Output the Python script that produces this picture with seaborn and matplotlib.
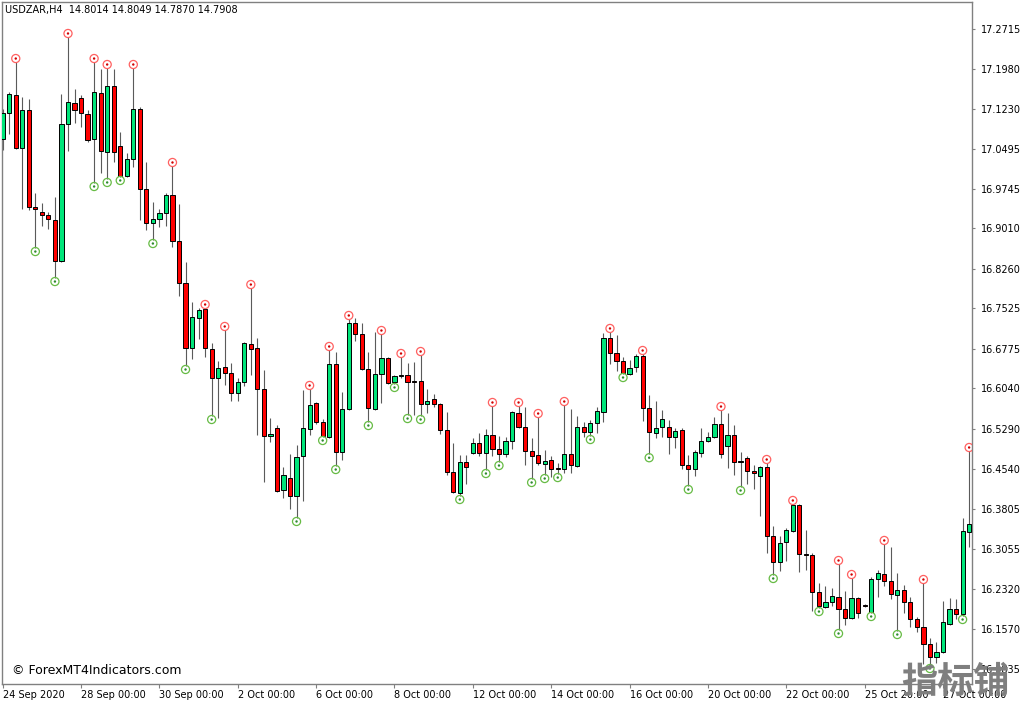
import numpy as np
import pandas as pd
import matplotlib
matplotlib.use("Agg")
import matplotlib.pyplot as plt
import seaborn as sns

# ---------------- data ----------------
header_text = "USDZAR,H4  14.8014 14.8049 14.7870 14.7908"
copyright_text = "© ForexMT4Indicators.com"
cjk_watermark = "指标铺"

opens = [17.0673, 17.1156, 17.1489, 17.0505, 17.1211, 16.9409, 16.9316, 16.9260, 16.9167, 16.8406,
         17.0951, 17.1341, 17.1434, 17.1137, 17.0673, 17.1527, 17.0431, 17.1657, 17.0543, 16.9985,
         17.0301, 17.1230, 16.9744, 16.9112, 16.9186, 16.9298, 16.9632, 16.8777, 16.7997, 16.6790,
         16.7348, 16.7515, 16.6772, 16.6233, 16.6437, 16.6326, 16.5955, 16.6159, 16.6865, 16.6790,
         16.6029, 16.5155, 16.5304, 16.4152, 16.4375, 16.4041, 16.4784, 16.5285, 16.5768, 16.5415,
         16.5137, 16.6493, 16.4858, 16.5657, 16.7255, 16.7050, 16.6400, 16.5657, 16.6307, 16.6605,
         16.6159, 16.6270, 16.6289, 16.6177, 16.6177, 16.5750, 16.5843, 16.5750, 16.5267, 16.4487,
         16.4097, 16.4672, 16.4840, 16.5025, 16.4840, 16.5174, 16.4914, 16.4821, 16.5062, 16.5583,
         16.5322, 16.4877, 16.4802, 16.4635, 16.4709, 16.4561, 16.4542, 16.4817, 16.4598, 16.5322,
         16.5230, 16.5397, 16.5601, 16.6976, 16.6698, 16.6549, 16.6307, 16.6437, 16.6642, 16.5675,
         16.5211, 16.5322, 16.5322, 16.5137, 16.5267, 16.4617, 16.4542, 16.4840, 16.5062, 16.5137,
         16.5378, 16.4970, 16.5174, 16.4691, 16.4747, 16.4505, 16.4412, 16.4579, 16.3298, 16.2815,
         16.3187, 16.3391, 16.3874, 16.2964, 16.2945, 16.2258, 16.1979, 16.2072, 16.2165, 16.1942,
         16.1775, 16.2147, 16.2016, 16.1886, 16.2500, 16.2592, 16.2462, 16.2202, 16.2295, 16.2072,
         16.1756, 16.1607, 16.1292, 16.1050, 16.1143, 16.1663, 16.1942, 16.1849, 16.3373]

highs = [17.1230, 17.1545, 17.2102, 17.1452, 17.1415, 16.9670, 16.9483, 16.9316, 16.9595, 17.1508,
         17.2567, 17.1601, 17.1489, 17.1211, 17.2102, 17.1972, 17.1991, 17.1972, 17.0803, 17.0413,
         17.1991, 17.1267, 17.0245, 16.9502, 16.9372, 16.9670, 17.0171, 16.9465, 16.8387, 16.7645,
         16.7533, 16.7533, 16.6883, 16.6549, 16.7125, 16.6512, 16.6233, 16.6902, 16.7904, 16.6976,
         16.6382, 16.5490, 16.5360, 16.4579, 16.4821, 16.4988, 16.6010, 16.6029, 16.5787, 16.5471,
         16.6753, 16.6716, 16.5973, 16.7329, 16.7348, 16.7255, 16.6716, 16.7088, 16.7050, 16.6623,
         16.6289, 16.6623, 16.6512, 16.6530, 16.6660, 16.6029, 16.5936, 16.5768, 16.5601, 16.5025,
         16.4802, 16.4802, 16.5118, 16.5211, 16.5285, 16.5713, 16.5155, 16.5137, 16.5620, 16.5713,
         16.5694, 16.5118, 16.5508, 16.4895, 16.4784, 16.4654, 16.5731, 16.5657, 16.5527, 16.5415,
         16.5452, 16.5694, 16.7069, 16.7088, 16.7032, 16.6623, 16.6567, 16.6679, 16.6679, 16.5917,
         16.5805, 16.5638, 16.5452, 16.5304, 16.5304, 16.4802, 16.4895, 16.5304, 16.5230, 16.5508,
         16.5638, 16.5583, 16.5360, 16.4858, 16.4784, 16.4617, 16.4598, 16.4654, 16.3484, 16.3298,
         16.3447, 16.3893, 16.3893, 16.3410, 16.2983, 16.2425, 16.2370, 16.2332, 16.2778, 16.2277,
         16.2518, 16.2165, 16.2035, 16.2537, 16.2667, 16.3150, 16.3094, 16.2611, 16.2388, 16.2165,
         16.1793, 16.2425, 16.1403, 16.1329, 16.2090, 16.2147, 16.2128, 16.3633, 16.4877]

lows = [17.0468, 17.0765, 17.0487, 16.9372, 16.9353, 16.8647, 16.9056, 16.9000, 16.8090, 16.8387,
        17.0450, 17.0970, 17.0895, 17.0617, 16.9855, 17.0041, 16.9930, 17.0245, 16.9967, 16.9967,
        17.0152, 16.9167, 16.8982, 16.8796, 16.9037, 16.9056, 16.8666, 16.7756, 16.6456, 16.6586,
        16.6958, 16.6623, 16.5527, 16.5490, 16.6103, 16.5805, 16.5805, 16.6085, 16.6289, 16.5174,
        16.4301, 16.5044, 16.4115, 16.4004, 16.3800, 16.3633, 16.3948, 16.5174, 16.5378, 16.5137,
        16.5118, 16.4598, 16.4709, 16.5638, 16.6920, 16.6382, 16.5415, 16.5638, 16.5768, 16.6122,
        16.6122, 16.6233, 16.5545, 16.5545, 16.5527, 16.5583, 16.5694, 16.5192, 16.4431, 16.4097,
        16.4041, 16.4264, 16.4821, 16.4784, 16.4524, 16.4784, 16.4672, 16.4765, 16.4914, 16.5304,
        16.4617, 16.4357, 16.4617, 16.4431, 16.4394, 16.4449, 16.4468, 16.4468, 16.4579, 16.5137,
        16.5155, 16.5211, 16.5415, 16.6493, 16.6363, 16.6307, 16.6289, 16.6345, 16.5434, 16.4817,
        16.5118, 16.5137, 16.4817, 16.4932, 16.4542, 16.4227, 16.4412, 16.4765, 16.5044, 16.5118,
        16.4747, 16.4561, 16.4431, 16.4208, 16.4264, 16.4171, 16.3670, 16.2983, 16.2574, 16.2648,
        16.2834, 16.3373, 16.2630, 16.2667, 16.1905, 16.1960, 16.1960, 16.1998, 16.1552, 16.1645,
        16.1756, 16.1775, 16.1979, 16.1868, 16.2165, 16.2370, 16.2128, 16.1533, 16.1868, 16.1607,
        16.1515, 16.0920, 16.0902, 16.0939, 16.1125, 16.1645, 16.1756, 16.1812, 16.3094]

closes = [17.1156, 17.1508, 17.0505, 17.1211, 16.9409, 16.9372, 16.9260, 16.9186, 16.8406, 17.0951,
          17.1360, 17.1211, 17.1156, 17.0654, 17.1545, 17.0450, 17.1657, 17.0431, 16.9985, 17.0301,
          17.1230, 16.9744, 16.9112, 16.9186, 16.9298, 16.9632, 16.8777, 16.7997, 16.6790, 16.7366,
          16.7496, 16.6790, 16.6233, 16.6419, 16.6326, 16.5955, 16.6159, 16.6883, 16.6772, 16.6029,
          16.5155, 16.5192, 16.4134, 16.4431, 16.4041, 16.4765, 16.5304, 16.5731, 16.5415, 16.5155,
          16.6493, 16.4858, 16.5657, 16.7255, 16.7050, 16.6400, 16.5675, 16.6307, 16.6605, 16.6140,
          16.6270, 16.6289, 16.6159, 16.6159, 16.5750, 16.5805, 16.5750, 16.5267, 16.4487, 16.4115,
          16.4672, 16.4579, 16.5025, 16.4840, 16.5174, 16.4914, 16.4821, 16.5062, 16.5601, 16.5322,
          16.4877, 16.4784, 16.4654, 16.4691, 16.4542, 16.4542, 16.4817, 16.4617, 16.5322, 16.5230,
          16.5397, 16.5620, 16.6976, 16.6698, 16.6549, 16.6326, 16.6419, 16.6642, 16.5675, 16.5230,
          16.5304, 16.5471, 16.5137, 16.5248, 16.4617, 16.4542, 16.4858, 16.5062, 16.5137, 16.5378,
          16.4817, 16.5174, 16.4672, 16.4672, 16.4505, 16.4468, 16.4579, 16.3298, 16.2815, 16.3168,
          16.3410, 16.3874, 16.2964, 16.2945, 16.2258, 16.1998, 16.2072, 16.2184, 16.1942, 16.1775,
          16.2147, 16.1868, 16.1998, 16.2500, 16.2611, 16.2462, 16.2221, 16.2295, 16.2072, 16.1756,
          16.1607, 16.1292, 16.1050, 16.1143, 16.1700, 16.1942, 16.1849, 16.3391, 16.3521]

# bars that carry a fractal marker
up_fractal_bars = [2, 10, 14, 16, 20, 26, 31, 34, 38, 47, 50, 53, 58, 61, 64, 75, 79, 82, 86,
                   93, 98, 110, 117, 121, 128, 130, 135, 141, 148]
down_fractal_bars = [5, 8, 14, 16, 18, 23, 28, 32, 45, 49, 51, 56, 60, 62, 64, 70, 74, 76, 81,
                     83, 85, 90, 95, 99, 105, 113, 118, 125, 128, 133, 137, 142, 147]

x_tick_bars = [0, 12, 24, 36, 48, 60, 72, 84, 96, 108, 120, 132, 144]
x_tick_labels = ["24 Sep 2020", "28 Sep 00:00", "30 Sep 00:00", "2 Oct 00:00", "6 Oct 00:00",
                 "8 Oct 00:00", "12 Oct 00:00", "14 Oct 00:00", "16 Oct 00:00", "20 Oct 00:00",
                 "22 Oct 00:00", "25 Oct 20:00", "27 Oct 00:00"]
y_tick_values = [17.2715, 17.1980, 17.1230, 17.0495, 16.9745, 16.9010, 16.8260, 16.7525,
                 16.6775, 16.6040, 16.5290, 16.4540, 16.3805, 16.3055, 16.2320, 16.1570, 16.0835]

# ---------------- style ----------------
sns.set_style("white")
plt.rcParams["font.family"] = ["DejaVu Sans"]

bull_color = "#00E57A"
bear_color = "#FF0000"
wick_color = "#5A5A5A"
frame_color = "#808080"

df = pd.DataFrame({"bar": np.arange(len(opens)), "open": opens, "high": highs,
                   "low": lows, "close": closes})
df["bull"] = df["close"] >= df["open"]
df["body_bottom"] = df[["open", "close"]].min(axis=1)
df["body_height"] = (df["close"] - df["open"]).abs().clip(lower=0.0006)

fig = plt.figure(figsize=(10.24, 7.04), dpi=100)
fig.patch.set_facecolor("white")
ax = fig.add_axes([2 / 1024, 20 / 704, 970 / 1024, 682 / 704])
ax.set_facecolor("white")

# wicks
ax.vlines(df["bar"], df["low"], df["high"], color=wick_color, linewidth=0.8, zorder=2)
# bodies
ax.bar(df["bar"], df["body_height"], bottom=df["body_bottom"], width=0.64,
       color=np.where(df["bull"], bull_color, bear_color), edgecolor="black",
       linewidth=0.7, zorder=3)

# fractal markers
off = 0.0065
up_df = pd.DataFrame({"bar": up_fractal_bars,
                      "y": [highs[i] + off for i in up_fractal_bars]})
dn_df = pd.DataFrame({"bar": down_fractal_bars,
                      "y": [lows[i] - off for i in down_fractal_bars]})
sns.scatterplot(data=up_df, x="bar", y="y", ax=ax, marker="o", s=34, facecolor="none",
                edgecolor="#FF6060", linewidth=0.9, zorder=4, legend=False)
sns.scatterplot(data=up_df, x="bar", y="y", ax=ax, marker="o", s=3, color="#D00000",
                edgecolor="none", zorder=5, legend=False)
sns.scatterplot(data=dn_df, x="bar", y="y", ax=ax, marker="o", s=34, facecolor="none",
                edgecolor="#66BB44", linewidth=0.9, zorder=4, legend=False)
sns.scatterplot(data=dn_df, x="bar", y="y", ax=ax, marker="o", s=3, color="#2E8B2E",
                edgecolor="none", zorder=5, legend=False)

# axes limits & ticks
ax.set_xlim(-0.107, 148.44)
ax.set_ylim(16.0549, 17.3217)
ax.set_xlabel("")
ax.set_ylabel("")

ax.yaxis.tick_right()
ax.set_yticks(y_tick_values)
ax.set_yticklabels([f"{v:.4f}" for v in y_tick_values])
ax.tick_params(axis="y", direction="out", length=2.5, width=0.8, color=frame_color,
               labelsize=7, pad=4, labelcolor="black", right=True, left=False)

ax.set_xticks(x_tick_bars)
ax.set_xticklabels(x_tick_labels)
for lbl in ax.get_xticklabels():
    lbl.set_horizontalalignment("left")
ax.tick_params(axis="x", direction="out", length=3, width=0.8, color=frame_color,
               labelsize=7, pad=1.5, labelcolor="black", bottom=True)

for side in ["left", "right", "top", "bottom"]:
    ax.spines[side].set_visible(True)
    ax.spines[side].set_color(frame_color)
    ax.spines[side].set_linewidth(1.0)

# texts
fig.text(5 / 1024, 1 - 10.5 / 704, header_text, fontsize=7, ha="left", va="center",
         color="black")
fig.text(12 / 1024, 1 - 670 / 704, copyright_text, fontsize=9, ha="left", va="center",
         color="black")
fig.text(955 / 1024, 1 - 682 / 704, cjk_watermark, fontsize=26, fontweight="bold",
         family=["Noto Sans CJK SC", "DejaVu Sans"], color="#7F7F7F", ha="center",
         va="center", zorder=20)

fig.savefig("out.png", dpi=100, facecolor="white")
